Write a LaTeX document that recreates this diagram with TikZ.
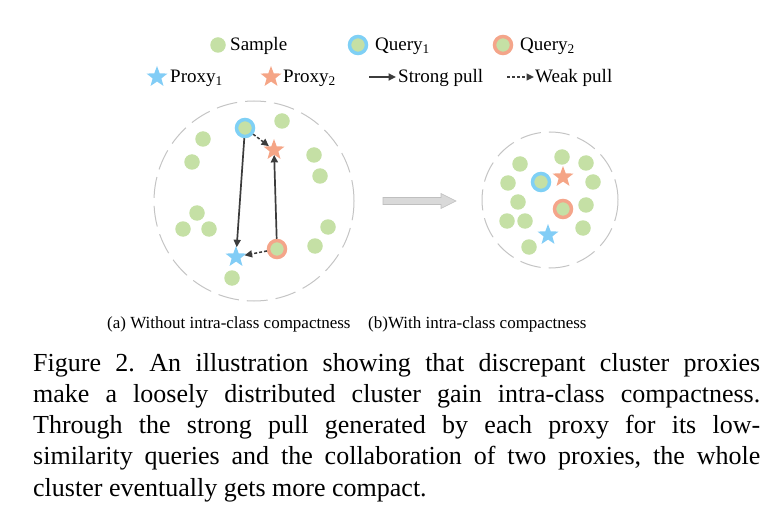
\documentclass[tikz,border=0pt]{standalone}
\usepackage{fontspec}
\setmainfont{Liberation Serif}
\usetikzlibrary{shapes.geometric,arrows.meta}
\definecolor{sgreen}{HTML}{C5E0A5}
\definecolor{qblue}{HTML}{7FD0F5}
\definecolor{qred}{HTML}{F4A58A}
\definecolor{pblue}{HTML}{82CDF6}
\definecolor{pred}{HTML}{F5A586}
\definecolor{ringgray}{HTML}{C4C4C4}
\definecolor{arrgray}{HTML}{3C3C3C}
\definecolor{bigarrow}{HTML}{D9D9D9}
\definecolor{bigarrowline}{HTML}{BFBFBF}
\tikzset{
  sample/.style={circle,fill=sgreen,minimum size=15.5pt,inner sep=0pt},
  qone/.style={circle,fill=sgreen,draw=qblue,line width=3.5pt,minimum size=17pt,inner sep=0pt},
  qtwo/.style={circle,fill=sgreen,draw=qred,line width=3.5pt,minimum size=17pt,inner sep=0pt},
  pone/.style={star,star points=5,star point ratio=2.4,fill=pblue,minimum size=22pt,inner sep=0pt},
  ptwo/.style={star,star points=5,star point ratio=2.4,fill=pred,minimum size=22pt,inner sep=0pt},
  strongpull/.style={draw=arrgray,line width=1.7pt,-{Triangle[length=7.5pt,width=7pt]}},
  weakpull/.style={draw=arrgray,line width=1.5pt,dash pattern=on 3pt off 2pt,-{Triangle[length=7.5pt,width=7pt]}},
  cluster/.style={circle,draw=ringgray,line width=1pt,dash pattern=on 21pt off 8pt,inner sep=0pt},
  legtext/.style={anchor=base west,inner sep=0pt,font=\fontsize{19}{22}\selectfont},
  subcap/.style={anchor=base west,inner sep=0pt,font=\fontsize{17}{20}\selectfont},
  capline/.style={anchor=base west,inner sep=0pt,font=\fontsize{26}{31}\selectfont\frenchspacing},
}
\begin{document}
\begin{tikzpicture}[x=1pt,y=-1pt]
\useasboundingbox (0,0) rectangle (775,521);

% ---------- legend ----------
\node[sample] (lsample) at (218,45) {};
\node[legtext] (tsample) at (230,51) {Sample};
\node[qone] (lq1) at (358,45) {};
\node[legtext] (tq1) at (375,51) {Query\textsubscript{1}};
\node[qtwo] (lq2) at (503,45) {};
\node[legtext] (tq2) at (520,51) {Query\textsubscript{2}};

\node[pone] (lp1) at (157,77) {};
\node[legtext] (tp1) at (170,83) {Proxy\textsubscript{1}};
\node[ptwo] (lp2) at (271,77) {};
\node[legtext] (tp2) at (283,83) {Proxy\textsubscript{2}};
\coordinate (lsa) at (369,77);
\coordinate (lsb) at (396,77);
\draw[strongpull] (lsa) -- (lsb);
\node[legtext] (tstrong) at (398,83) {Strong pull};
\coordinate (lwa) at (507,77);
\coordinate (lwb) at (534,77);
\draw[weakpull] (lwa) -- (lwb);
\node[legtext] (tweak) at (535,83) {Weak pull};

% ---------- (a) loose cluster ----------
\node[cluster,minimum size=200pt] (ca) at (254,201) {};
\node[sample] (a1) at (282,121) {};
\node[sample] (a2) at (203,139) {};
\node[sample] (a3) at (192,162) {};
\node[sample] (a4) at (314,155) {};
\node[sample] (a5) at (320,176) {};
\node[sample] (a6) at (197,213) {};
\node[sample] (a7) at (183,229) {};
\node[sample] (a8) at (209,229) {};
\node[sample] (a9) at (328,227) {};
\node[sample] (a10) at (315,246) {};
\node[sample] (a11) at (232,278) {};
\node[qone] (aq1) at (245,128) {};
\node[qtwo] (aq2) at (277,249) {};
\node[pone] (ap1) at (236,257) {};
\node[ptwo] (ap2) at (274,150) {};
\draw[strongpull] (aq1) -- (ap1);
\draw[strongpull] (aq2) -- (ap2);
\draw[weakpull] (aq1) -- (ap2);
\draw[weakpull] (aq2) -- (ap1);

% ---------- transition arrow ----------
\draw[fill=bigarrow,draw=bigarrowline,line width=0.6pt]
  (383,197.5) -- (441,197.5) -- (441,193.5) -- (456,201) -- (441,208.5) -- (441,204.5) -- (383,204.5) -- cycle;

% ---------- (b) compact cluster ----------
\node[cluster,minimum size=136pt] (cb) at (550,200) {};
\node[sample] (b1) at (562,157) {};
\node[sample] (b2) at (520,164) {};
\node[sample] (b3) at (586,163) {};
\node[sample] (b4) at (508,183) {};
\node[sample] (b5) at (593,182) {};
\node[sample] (b6) at (518,202) {};
\node[sample] (b7) at (586,205) {};
\node[sample] (b8) at (507,221) {};
\node[sample] (b9) at (525,221) {};
\node[sample] (b10) at (583,228) {};
\node[sample] (b11) at (529,247) {};
\node[qone] (bq1) at (541,182) {};
\node[qtwo] (bq2) at (563,209) {};
\node[pone] (bp1) at (548,235) {};
\node[ptwo] (bp2) at (563,177) {};

% ---------- sub-captions ----------
\node[subcap] (sa) at (107,328) {(a) Without intra-class compactness};
\node[subcap] (sb) at (368,328) {(b)With intra-class compactness};

% ---------- caption ----------
\node[capline] (c1) at (33,371) {\makebox[727pt][s]{Figure 2. An illustration showing that discrepant cluster proxies}};
\node[capline] (c2) at (33,402.3) {\makebox[727pt][s]{make a loosely distributed cluster gain intra-class compactness.}};
\node[capline] (c3) at (33,433.6) {\makebox[727pt][s]{Through the strong pull generated by each proxy for its low-}};
\node[capline] (c4) at (33,464.9) {\makebox[727pt][s]{similarity queries and the collaboration of two proxies, the whole}};
\node[capline] (c5) at (33,496.2) {cluster eventually gets more compact.};
\end{tikzpicture}
\end{document}
